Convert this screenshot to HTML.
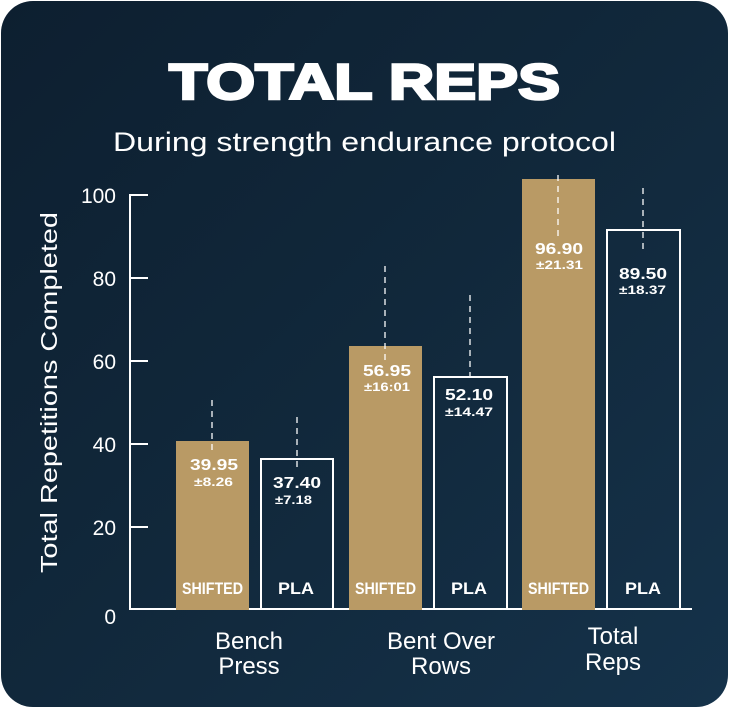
<!DOCTYPE html>
<html><head><meta charset="utf-8"><style>
html,body{margin:0;padding:0;background:#fff;}
.card{position:absolute;left:1px;top:1px;width:727px;height:706px;border-radius:32px;background:linear-gradient(135deg,#0d1f30 0%,#11283b 50%,#15324a 100%);overflow:hidden;}
svg{position:absolute;left:0;top:0;}
text{font-family:"Liberation Sans",sans-serif;fill:#fff;}
</style></head><body>
<div class="card"></div>
<svg width="729" height="708" viewBox="0 0 729 708">
<text x="169" y="99" font-size="50" font-weight="900" stroke="#fff" stroke-width="2.5" textLength="391" lengthAdjust="spacingAndGlyphs">TOTAL REPS</text>
<text x="113" y="151" font-size="27" textLength="503" lengthAdjust="spacingAndGlyphs">During strength endurance protocol</text>
<text transform="translate(57,573) rotate(-90)" font-size="23" textLength="361" lengthAdjust="spacingAndGlyphs">Total Repetitions Completed</text>
<g stroke="#fff" stroke-width="2" fill="none">
<path d="M148 195H130V609H692"/>
<path d="M130 278H148M130 361H148M130 444H148M130 527H148"/>
</g>
<g font-size="21" text-anchor="end">
<text x="116" y="203">100</text><text x="116" y="286">80</text><text x="116" y="369">60</text><text x="116" y="452">40</text><text x="116" y="535">20</text><text x="116" y="624">0</text>
</g>
<g fill="#b99a65">
<rect x="176" y="441" width="73" height="169"/>
<rect x="349" y="346" width="73" height="264"/>
<rect x="522" y="179" width="73" height="431"/>
</g>
<g fill="none" stroke="#fff" stroke-width="2">
<rect x="261" y="459" width="72" height="150"/>
<rect x="434" y="377" width="73" height="232"/>
<rect x="607" y="230" width="73" height="379"/>
</g>
<g stroke="#fff" stroke-width="1.5" stroke-dasharray="6,5" opacity="0.85">
<path d="M212 400V450M297 417V468M385 266V360M470 295V382M558 175V240M643 188V250"/>
</g>
<g font-weight="bold" lengthAdjust="spacingAndGlyphs">
<g font-size="16">
<text x="190" y="470" textLength="48" lengthAdjust="spacingAndGlyphs">39.95</text>
<text x="273" y="488" textLength="48" lengthAdjust="spacingAndGlyphs">37.40</text>
<text x="363" y="376" textLength="48" lengthAdjust="spacingAndGlyphs">56.95</text>
<text x="445" y="400" textLength="48" lengthAdjust="spacingAndGlyphs">52.10</text>
<text x="535" y="254" textLength="48" lengthAdjust="spacingAndGlyphs">96.90</text>
<text x="619" y="279" textLength="48" lengthAdjust="spacingAndGlyphs">89.50</text>
</g>
<g font-size="12">
<text x="194" y="486" textLength="39" lengthAdjust="spacingAndGlyphs">±8.26</text>
<text x="275" y="504" textLength="37" lengthAdjust="spacingAndGlyphs">±7.18</text>
<text x="364" y="391" textLength="46" lengthAdjust="spacingAndGlyphs">±16:01</text>
<text x="445" y="416" textLength="48" lengthAdjust="spacingAndGlyphs">±14.47</text>
<text x="536" y="269" textLength="47" lengthAdjust="spacingAndGlyphs">±21.31</text>
<text x="619" y="294" textLength="47" lengthAdjust="spacingAndGlyphs">±18.37</text>
</g>
<g font-size="17">
<text x="182" y="594" textLength="61" lengthAdjust="spacingAndGlyphs">SHIFTED</text>
<text x="278" y="594" textLength="36" lengthAdjust="spacingAndGlyphs">PLA</text>
<text x="355" y="594" textLength="61" lengthAdjust="spacingAndGlyphs">SHIFTED</text>
<text x="451" y="594" textLength="36" lengthAdjust="spacingAndGlyphs">PLA</text>
<text x="528" y="594" textLength="61" lengthAdjust="spacingAndGlyphs">SHIFTED</text>
<text x="625" y="594" textLength="36" lengthAdjust="spacingAndGlyphs">PLA</text>
</g>
</g>
<g font-size="24" text-anchor="middle">
<text x="249" y="649">Bench</text><text x="249" y="674">Press</text>
<text x="441" y="649">Bent Over</text><text x="441" y="674">Rows</text>
<text x="613" y="644">Total</text><text x="613" y="670">Reps</text>
</g>
</svg>
</body></html>
